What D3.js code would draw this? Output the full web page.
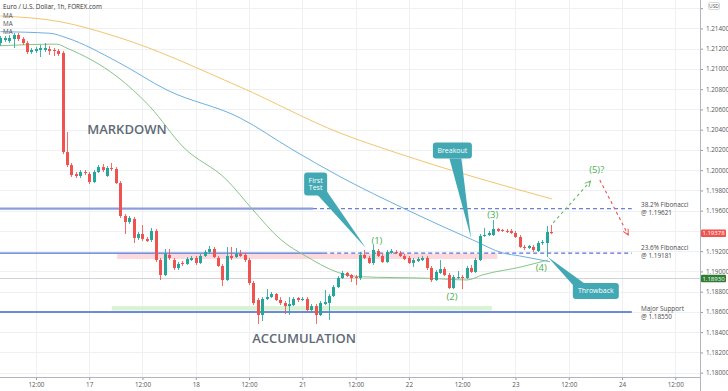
<!DOCTYPE html>
<html><head><meta charset="utf-8">
<script src="https://cdn.jsdelivr.net/npm/d3@7"></script>
<style>body{margin:0;background:#fff;} svg{display:block;font-family:"Open Sans",sans-serif;}</style>
</head><body><svg id="c" width="728" height="391"></svg>
<script>
// ---- DATA ----
// candles: [open, high, low, close], hourly, by bar index
const ohlc = [
[1.21256,1.21325,1.21227,1.21306],[1.21286,1.21325,1.21266,1.21306],[1.21276,1.21335,1.21256,1.21306],[1.21296,1.21355,1.21207,1.21335],
[1.21335,1.21355,1.21276,1.21296],[1.21296,1.21316,1.21237,1.21256],[1.21256,1.21276,1.21148,1.21167],[1.21167,1.21207,1.21148,1.21187],
[1.21177,1.21217,1.21158,1.21197],[1.21187,1.21237,1.21118,1.21207],[1.21187,1.21256,1.21167,1.21207],[1.21197,1.21227,1.21138,1.21177],
[1.21187,1.21207,1.21128,1.21177],[1.21177,1.21197,1.21128,1.21148],[1.21158,1.21177,1.20159,1.20179],[1.20179,1.20377,1.20031,1.20051],
[1.20051,1.20071,1.19933,1.19952],[1.19962,1.19982,1.19923,1.19943],[1.19943,1.20002,1.19923,1.19982],[1.19982,1.20002,1.19952,1.19972],
[1.19962,1.19982,1.19864,1.19883],[1.19883,1.20002,1.19873,1.19982],[1.19982,1.20051,1.19972,1.20031],[1.20031,1.20061,1.19982,1.20002],
[1.19943,1.20041,1.19933,1.20022],[1.20022,1.20071,1.19992,1.20012],[1.20012,1.20031,1.19864,1.19873],[1.19873,1.19893,1.19528,1.19548],
[1.19548,1.19568,1.19370,1.19489],[1.19489,1.19548,1.19469,1.19528],[1.19518,1.19538,1.19281,1.19331],[1.19331,1.19390,1.19311,1.19370],
[1.19370,1.19459,1.19301,1.19321],[1.19321,1.19340,1.19291,1.19301],[1.19311,1.19430,1.19291,1.19400],[1.19400,1.19420,1.19093,1.19113],
[1.19113,1.19133,1.18915,1.18965],[1.18965,1.19222,1.18955,1.19173],[1.19163,1.19222,1.19113,1.19133],[1.19113,1.19133,1.19014,1.19034],
[1.19034,1.19093,1.19014,1.19074],[1.19084,1.19103,1.19054,1.19074],[1.19074,1.19143,1.19064,1.19123],[1.19113,1.19153,1.19103,1.19133],
[1.19133,1.19153,1.19064,1.19084],[1.19084,1.19173,1.19074,1.19153],[1.19153,1.19212,1.19143,1.19192],[1.19192,1.19252,1.19173,1.19222],
[1.19222,1.19242,1.19133,1.19143],[1.19133,1.19153,1.19044,1.19054],[1.19054,1.19074,1.18856,1.18915],[1.18915,1.19242,1.18906,1.19153],
[1.19153,1.19242,1.19113,1.19133],[1.19143,1.19232,1.19133,1.19173],[1.19173,1.19212,1.19143,1.19153],[1.19163,1.19183,1.19093,1.19113],
[1.19113,1.19133,1.18866,1.18886],[1.18886,1.18906,1.18668,1.18688],[1.18718,1.18738,1.18481,1.18570],[1.18570,1.18747,1.18510,1.18728],
[1.18728,1.18826,1.18718,1.18747],[1.18747,1.18797,1.18738,1.18777],[1.18777,1.18787,1.18708,1.18718],[1.18718,1.18747,1.18668,1.18688],
[1.18688,1.18708,1.18579,1.18658],[1.18658,1.18747,1.18570,1.18678],[1.18668,1.18747,1.18658,1.18728],[1.18738,1.18747,1.18698,1.18718],
[1.18718,1.18747,1.18708,1.18728],[1.18728,1.18747,1.18609,1.18619],[1.18619,1.18678,1.18609,1.18658],[1.18658,1.18678,1.18481,1.18570],
[1.18570,1.18708,1.18560,1.18688],[1.18678,1.18817,1.18668,1.18698],[1.18688,1.18777,1.18520,1.18757],[1.18757,1.18866,1.18747,1.18846],
[1.18846,1.18955,1.18836,1.18935],[1.18935,1.19005,1.18925,1.18985],[1.18985,1.18995,1.18945,1.18955],[1.18965,1.18975,1.18896,1.18935],
[1.18945,1.18965,1.18866,1.18935],[1.18935,1.19192,1.18915,1.19163],[1.19163,1.19212,1.19123,1.19133],[1.19133,1.19153,1.19074,1.19084],
[1.19084,1.19262,1.19064,1.19212],[1.19202,1.19222,1.19143,1.19153],[1.19153,1.19173,1.19084,1.19093],[1.19093,1.19212,1.19084,1.19192],
[1.19183,1.19222,1.19173,1.19202],[1.19192,1.19212,1.19173,1.19183],[1.19183,1.19202,1.19143,1.19153],[1.19153,1.19173,1.19113,1.19123],
[1.19133,1.19153,1.19074,1.19084],[1.19084,1.19133,1.19044,1.19113],[1.19103,1.19143,1.19093,1.19123],[1.19113,1.19153,1.19103,1.19133],
[1.19133,1.19153,1.19014,1.19034],[1.19034,1.19054,1.18896,1.18915],[1.18915,1.19014,1.18906,1.18995],[1.18985,1.19113,1.18975,1.19024],
[1.19024,1.19044,1.18955,1.18965],[1.18965,1.18985,1.18826,1.18836],[1.18836,1.18965,1.18826,1.18945],[1.18935,1.19005,1.18925,1.18945],
[1.18945,1.18965,1.18826,1.18935],[1.18935,1.19054,1.18925,1.19034],[1.19034,1.19064,1.18985,1.18995],[1.18995,1.19133,1.18985,1.19113],
[1.19113,1.19370,1.19103,1.19350],[1.19350,1.19430,1.19340,1.19360],[1.19360,1.19400,1.19350,1.19380],[1.19360,1.19508,1.19350,1.19420],
[1.19420,1.19430,1.19390,1.19400],[1.19410,1.19420,1.19390,1.19400],[1.19400,1.19420,1.19380,1.19390],[1.19400,1.19420,1.19370,1.19380],
[1.19380,1.19400,1.19331,1.19340],[1.19340,1.19360,1.19232,1.19242],[1.19242,1.19262,1.19212,1.19232],[1.19232,1.19262,1.19222,1.19252],
[1.19242,1.19262,1.19192,1.19212],[1.19202,1.19301,1.19192,1.19281],[1.19281,1.19311,1.19262,1.19291],[1.19281,1.19449,1.19143,1.19390],
[1.19390,1.19459,1.19370,1.19378]
];
// moving averages sampled at bar index: [index, price]
const maFast = [[0,1.21229],[12.7,1.21245],[15,1.21205],[26.3,1.20923],[33.7,1.20627],[41.1,1.20232],[51,1.19903],[56.9,1.19607],[63,1.1932],[69,1.19146],[77.2,1.18975],[81,1.18948],[96.8,1.18932],[105.1,1.18916],[108.5,1.18965],[117.5,1.19047],[123.3,1.19113]];
const maMid = [[0,1.21368],[11.2,1.21352],[15,1.21306],[26.3,1.21072],[37.5,1.20792],[54,1.20516],[65.9,1.202],[76.5,1.19936],[91.6,1.19607],[106.4,1.19311],[113.2,1.19182],[117,1.19153],[123.8,1.19096]];
const maSlow = [[0,1.21523],[13.4,1.21467],[26.3,1.21316],[54,1.20822],[76.5,1.20367],[90,1.2016],[124.2,1.19716]];
// axis ticks
const xTickIdx = [8,20,32,44,56,68,80,92,104,116,128,140,152];
const xTickLabels = ["12:00","17","12:00","18","12:00","21","12:00","22","12:00","23","12:00","24","12:00"];
const priceTicks = [1.180,1.182,1.184,1.186,1.188,1.190,1.192,1.194,1.196,1.198,1.200,1.202,1.204,1.206,1.208,1.210,1.212,1.214,1.216];
// levels
const fib382 = 1.19621, fib236 = 1.19181, supportDrawn = 1.18600, markLine = 1.18930, lastPrice = 1.19378;
const levelLabels = [["38.2% Fibonacci","@ 1.19621"],["23.6% Fibonacci","@ 1.19181"],["Major Support","@ 1.18550"]];
// zones [startIdx, endIdx, top, bottom]
const pinkZone = [26.3, 111.9, 1.19177, 1.19123];
const greenZone = [25.1, 110.7, 1.18658, 1.18614];
// wave labels [idx, price, text]
const waves = [[84.8,1.19301,"(1)"],[101.7,1.18747,"(2)"],[110.9,1.19557,"(3)"],[121.8,1.19040,"(4)"],[134.3,1.20002,"(5)?"]];
const projUp = [[124.5,1.19479],[132.9,1.19893]];
const projDown = [[135,1.19903],[141.4,1.19360]];
// callouts: text lines, box centre [idx, price], tip [idx, price]
const callouts = [
  {lines:["First","Test"], c:[71,1.19864], w:23, h:23, tip:[82.3,1.19232], base:[[2,11],[11,7]]},
  {lines:["Breakout"], c:[101.8,1.20194], w:39, h:16, tip:[106,1.19331], base:[[-3,8],[9,8]]},
  {lines:["Throwback"], c:[134.1,1.18807], w:46, h:16, tip:[123.3,1.19143], base:[[-22,-5],[-12,-8]]}
];

// ---- CHART ----
const svg = d3.select('#c');
const plotR = 700, plotB = 377;
const x = d3.scaleLinear().domain([0,152]).range([0.4,675.3]);
const y = d3.scaleLinear().domain([1.18,1.214]).range([372.7,28.45]);
const UP = "#26a69a", DN = "#ef5350";

svg.append("defs").append("clipPath").attr("id","clip").append("rect").attr("x",0).attr("y",0).attr("width",plotR).attr("height",plotB);

// grid
const grid = svg.append("g").attr("stroke","#eef0f3").attr("stroke-width",1);
grid.selectAll(".vg").data(xTickIdx).join("line").attr("x1",d=>Math.round(x(d))+0.5).attr("x2",d=>Math.round(x(d))+0.5).attr("y1",0).attr("y2",plotB);
grid.selectAll(".hg").data(priceTicks).join("line").attr("y1",d=>Math.round(y(d))+0.5).attr("y2",d=>Math.round(y(d))+0.5).attr("x1",0).attr("x2",plotR);

const plot = svg.append("g").attr("clip-path","url(#clip)");

// zones
plot.append("rect").attr("x",x(pinkZone[0])).attr("width",x(pinkZone[1])-x(pinkZone[0])).attr("y",y(pinkZone[2])).attr("height",y(pinkZone[3])-y(pinkZone[2])).attr("fill","#fbd9dc");
plot.append("rect").attr("x",x(greenZone[0])).attr("width",x(greenZone[1])-x(greenZone[0])).attr("y",y(greenZone[2])).attr("height",y(greenZone[3])-y(greenZone[2])).attr("fill","#d9f3d2");

// marked level
plot.append("line").attr("x1",0).attr("x2",plotR).attr("y1",y(markLine)).attr("y2",y(markLine)).attr("stroke","#cfd2d6").attr("stroke-width",1);

// levels
const solidEnd382 = 70.4, solidEnd236 = 72.7, lvlEnd = 142.2;
plot.append("line").attr("x1",0).attr("x2",x(solidEnd382)).attr("y1",y(fib382)).attr("y2",y(fib382)).attr("stroke","#8c9edb").attr("stroke-width",2.2);
plot.append("line").attr("x1",x(solidEnd382)).attr("x2",x(lvlEnd)).attr("y1",y(fib382)).attr("y2",y(fib382)).attr("stroke","#6b7fd8").attr("stroke-width",1.2).attr("stroke-dasharray","4,3");
plot.append("line").attr("x1",0).attr("x2",x(solidEnd236)).attr("y1",y(fib236)).attr("y2",y(fib236)).attr("stroke","#4f70d4").attr("stroke-width",1.4);
plot.append("line").attr("x1",x(solidEnd236)).attr("x2",x(lvlEnd)).attr("y1",y(fib236)).attr("y2",y(fib236)).attr("stroke","#5a6fd6").attr("stroke-width",1.2).attr("stroke-dasharray","4,3");
plot.append("line").attr("x1",0).attr("x2",x(lvlEnd)).attr("y1",y(supportDrawn)).attr("y2",y(supportDrawn)).attr("stroke","#3f66d0").attr("stroke-width",1.4);

// level labels
const lvlVals = [fib382, fib236, supportDrawn];
const lvlOff = [[-3.8,4.2],[-5.2,2.8],[-3.4,4.8]];
levelLabels.forEach((ls,k)=>{
  ls.forEach((t,j)=>{
    svg.append("text").attr("x",641).attr("y",y(lvlVals[k])+lvlOff[k][j]).attr("dy","0.35em")
      .attr("font-size",6.4).attr("fill","#4a4a4a").text(t);
  });
});

// MAs
const line = d3.line().x(d=>x(d[0])).y(d=>y(d[1])).curve(d3.curveMonotoneX);
plot.append("path").datum(maSlow).attr("d",line).attr("fill","none").attr("stroke","#f5c46e").attr("stroke-width",1);
plot.append("path").datum(maMid).attr("d",line).attr("fill","none").attr("stroke","#6db0e2").attr("stroke-width",1);
plot.append("path").datum(maFast).attr("d",line).attr("fill","none").attr("stroke","#86c686").attr("stroke-width",1);

// candles
const cg = plot.append("g");
const cs = cg.selectAll("g").data(ohlc).join("g");
cs.append("line")
  .attr("x1",(d,i)=>Math.round(x(i))+0.5).attr("x2",(d,i)=>Math.round(x(i))+0.5)
  .attr("y1",d=>y(d[1])).attr("y2",d=>y(d[2]))
  .attr("stroke",d=>d[3]>=d[0]?UP:DN).attr("stroke-width",1).attr("opacity",0.85);
cs.append("rect")
  .attr("x",(d,i)=>Math.round(x(i))-1).attr("width",3)
  .attr("y",d=>y(Math.max(d[0],d[3])))
  .attr("height",d=>Math.max(1,Math.abs(y(d[0])-y(d[3]))))
  .attr("fill",d=>d[3]>=d[0]?UP:DN);

// projections
const defs = svg.select("defs");
function mk(id,col){
  defs.append("marker").attr("id",id).attr("viewBox","0 0 10 10").attr("refX",9).attr("refY",5)
   .attr("markerWidth",7).attr("markerHeight",7).attr("markerUnits","userSpaceOnUse").attr("orient","auto")
   .append("path").attr("d","M1,1 L9,5 L1,9").attr("fill","none").attr("stroke",col).attr("stroke-width",1.4);
}
mk("ag","#66bb6a"); mk("ar","#ef5350");
const pl = d3.line().x(d=>x(d[0])).y(d=>y(d[1]));
svg.append("path").datum(projUp).attr("d",pl).attr("stroke","#66bb6a").attr("stroke-width",1.1).attr("stroke-dasharray","3,3").attr("fill","none").attr("marker-end","url(#ag)");
svg.append("path").datum(projDown).attr("d",pl).attr("stroke","#ef5350").attr("stroke-width",1.1).attr("stroke-dasharray","3,3").attr("fill","none").attr("marker-end","url(#ar)");

// wave labels
svg.selectAll(".wv").data(waves).join("text").attr("x",d=>x(d[0])).attr("y",d=>y(d[1])).attr("dy","0.35em")
  .attr("text-anchor","middle").attr("font-size",9.5).attr("fill","#4caf50").text(d=>d[2]);

// big labels
svg.append("text").attr("x",x(28.5)).attr("y",y(1.20407)).attr("dy","0.35em").attr("text-anchor","middle")
  .attr("font-size",13).attr("font-weight",600).attr("fill","#5f6a77").text("MARKDOWN");
svg.append("text").attr("x",x(68.4)).attr("y",y(1.18343)).attr("dy","0.35em").attr("text-anchor","middle")
  .attr("font-size",13).attr("font-weight",600).attr("fill","#5f6a77").text("ACCUMULATION");

// callouts
const CC = "#42a9b4";
callouts.forEach(c=>{
  const cx = x(c.c[0]), cy = y(c.c[1]);
  const l = cx - c.w/2, t = cy - c.h/2;
  const tx = x(c.tip[0]), ty = y(c.tip[1]);
  const g = svg.append("g");
  g.append("path").attr("d",`M${cx+c.base[0][0]},${cy+c.base[0][1]} L${tx},${ty} L${cx+c.base[1][0]},${cy+c.base[1][1]} Z`).attr("fill",CC);
  g.append("rect").attr("x",l).attr("y",t).attr("width",c.w).attr("height",c.h).attr("rx",3).attr("fill",CC);
  c.lines.forEach((s,k)=>{
    g.append("text").attr("x",cx).attr("y",cy + (k-(c.lines.length-1)/2)*7.5).attr("dy","0.35em")
      .attr("text-anchor","middle").attr("font-size",7).attr("fill","#fff").text(s);
  });
});

// axes
const ya = svg.append("g").attr("transform",`translate(${plotR},0)`)
  .call(d3.axisRight(y).tickValues(priceTicks).tickSize(3).tickPadding(3).tickFormat(d3.format(".5f")));
ya.select(".domain").remove();
ya.selectAll("line").attr("stroke","#9598a1");
ya.selectAll("text").attr("font-size",6.3).attr("fill","#555").attr("font-family","Open Sans, sans-serif");
ya.selectAll(".tick text").filter(d=>Math.abs(y(d)-y(lastPrice))<7 || Math.abs(y(d)-y(markLine))<7 || d>1.215).remove();
const xa = svg.append("g").attr("transform",`translate(0,${plotB})`)
  .call(d3.axisBottom(x).tickValues(xTickIdx).tickSize(3).tickPadding(3).tickFormat((d,i)=>xTickLabels[i]));
xa.select(".domain").remove();
xa.selectAll("line").attr("stroke","#9598a1");
xa.selectAll("text").attr("font-size",6.3).attr("fill","#555").attr("font-family","Open Sans, sans-serif");
svg.append("line").attr("x1",0).attr("x2",plotR).attr("y1",plotB+0.5).attr("y2",plotB+0.5).attr("stroke","#b2b5be");
svg.append("line").attr("x1",plotR+0.5).attr("x2",plotR+0.5).attr("y1",0).attr("y2",391).attr("stroke","#b2b5be");

// price boxes
function pbox(v,col){
  const yy = y(v);
  svg.append("rect").attr("x",701).attr("y",yy-3.8).attr("width",25).attr("height",7.6).attr("rx",1).attr("fill",col);
  svg.append("text").attr("x",713.5).attr("y",yy).attr("dy","0.35em").attr("text-anchor","middle").attr("font-size",6).attr("fill","#fff").text(d3.format(".5f")(v));
}
pbox(lastPrice,"#ef5350");
pbox(markLine,"#2e7d32");
// USD box
svg.append("rect").attr("x",708.5).attr("y",2.5).attr("width",11).attr("height",7).attr("rx",1.5).attr("fill","#fff").attr("stroke","#c4c7cc").attr("stroke-width",0.7);
svg.append("text").attr("x",714).attr("y",6).attr("dy","0.35em").attr("text-anchor","middle").attr("font-size",5).attr("fill","#555").text("USD");

// title & legend
svg.append("text").attr("x",3).attr("y",9.3).attr("font-size",6.4).attr("fill","#333").text("Euro / U.S. Dollar, 1h, FOREX.com");
["MA","MA","MA"].forEach((s,k)=>svg.append("text").attr("x",3).attr("y",17.8+k*8.3).attr("font-size",6.3).attr("fill","#555").text(s));
</script></body></html>
